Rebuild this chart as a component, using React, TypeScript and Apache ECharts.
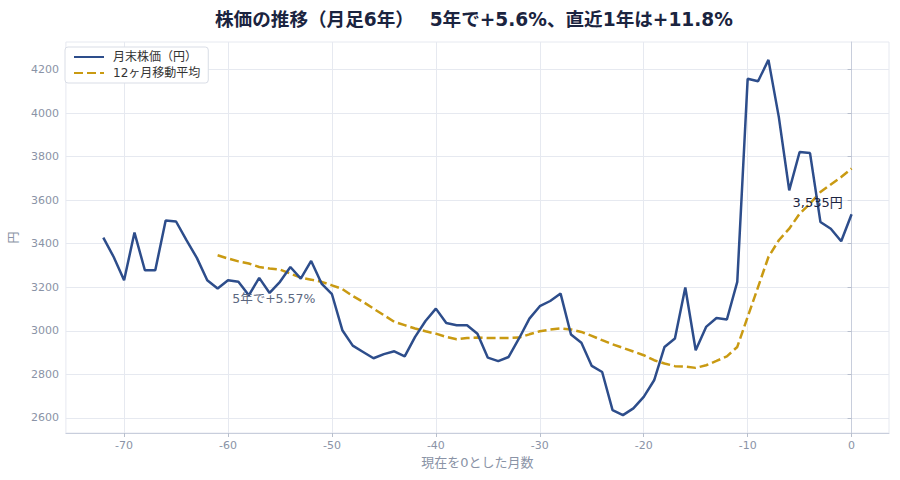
import { useEffect, useRef } from 'react'
import * as echarts from 'echarts'

// 月末株価（-72 .. 0 ヶ月）
const PRICE = [
  3428, 3339, 3232, 3451, 3278, 3278, 3507, 3502, 3416, 3335, 3232, 3194,
  3232, 3225, 3163, 3243, 3174, 3225, 3293, 3240, 3321, 3217, 3168, 3003,
  2932, 2903, 2874, 2893, 2906, 2883, 2972, 3045, 3102, 3036, 3026, 3026,
  2987, 2877, 2861, 2880, 2965, 3056, 3113, 3137, 3171, 2983, 2945, 2839,
  2811, 2636, 2613, 2644, 2697, 2773, 2926, 2965, 3199, 2911, 3018, 3059,
  3052, 3225, 4157, 4146, 4244, 3981, 3645, 3821, 3816, 3500, 3469, 3411,
  3535,
]

// 12ヶ月移動平均（-61 .. 0 ヶ月）
const MA12 = [
  3347, 3332, 3319, 3309, 3293, 3286, 3281, 3263, 3244, 3235, 3225, 3209,
  3192, 3160, 3133, 3102, 3072, 3041, 3026, 3011, 2998, 2987, 2972, 2961,
  2967, 2969, 2967, 2967, 2967, 2969, 2984, 2998, 3006, 3011, 3006, 2995,
  2977, 2957, 2938, 2922, 2905, 2888, 2865, 2850, 2838, 2836, 2830, 2842,
  2862, 2883, 2926, 3064, 3201, 3339, 3416, 3469, 3538, 3584, 3637, 3672,
  3706, 3745,
]

const X_TICKS = [-70, -60, -50, -40, -30, -20, -10, 0]
const Y_TICKS = [2600, 2800, 3000, 3200, 3400, 3600, 3800, 4000, 4200]

const FONT = '"DejaVu Sans", "Noto Sans CJK JP", sans-serif'
const BLUE = '#2d4d8b'
const GOLD = '#c99a12'
const MUTED = '#8a93a6'

export default function App() {
  const ref = useRef<HTMLDivElement | null>(null)

  useEffect(() => {
    if (!ref.current) return
    const chart = echarts.init(ref.current, null, { renderer: 'svg' })
    chart.setOption(buildOption())
    return () => chart.dispose()
  }, [])

  return <div ref={ref} style={{ width: 900, height: 480, position: 'absolute', left: 0, top: 0 }} />
}

function buildOption() {
  const priceData = PRICE.map((v, i) => [i - (PRICE.length - 1), v])
  const maData = MA12.map((v, i) => [i - (MA12.length - 1), v])
  const last = PRICE[PRICE.length - 1]

  return {
    animation: false,
    textStyle: { fontFamily: FONT },
    title: {
      text: '株価の推移（月足6年）\u3000 5年で+5.6%、直近1年は+11.8%',
      left: 210,
      top: 5,
      textStyle: { fontSize: 18.6, fontWeight: 'bold', color: '#1b2440', fontFamily: FONT },
    },
    legend: {
      orient: 'vertical',
      left: 65,
      top: 47,
      padding: [4, 8, 4, 8],
      itemGap: 4,
      itemWidth: 30,
      itemHeight: 14,
      borderColor: '#d9dde6',
      borderWidth: 1,
      borderRadius: 3,
      backgroundColor: '#fff',
      itemStyle: { opacity: 0 },
      textStyle: { fontSize: 12, color: '#333', fontFamily: FONT, padding: [0, 0, 0, 4] },
      data: ['月末株価（円）', '12ヶ月移動平均'],
    },
    grid: {
      left: 63,
      right: 11,
      top: 42,
      bottom: 47,
      show: true,
      borderColor: '#e6e9f0',
      borderWidth: 1,
    },
    xAxis: {
      type: 'value',
      min: -75.6,
      max: 3.6,
      name: '現在を0とした月数',
      nameLocation: 'middle',
      nameGap: 21,
      nameTextStyle: { color: MUTED, fontSize: 13, fontFamily: FONT },
      axisLine: { show: true, lineStyle: { color: '#c8cedc' } },
      axisTick: { show: true, length: 4, lineStyle: { color: '#b8bfcd' }, customValues: X_TICKS },
      axisLabel: { color: MUTED, fontSize: 11, margin: 7, customValues: X_TICKS },
      splitLine: { show: true, lineStyle: { color: '#e6e9f0' } },
    },
    yAxis: {
      type: 'value',
      min: 2531,
      max: 4326,
      name: '円',
      nameLocation: 'middle',
      nameGap: 41,
      nameRotate: 90,
      nameTextStyle: { color: MUTED, fontSize: 12, fontFamily: FONT },
      axisLine: { show: true, lineStyle: { color: '#c8cedc' } },
      axisTick: { show: true, length: 4, lineStyle: { color: '#b8bfcd' }, customValues: Y_TICKS },
      axisLabel: {
        color: MUTED,
        fontSize: 11,
        margin: 7,
        customValues: Y_TICKS,
        formatter: (v: number) => String(v),
      },
      splitLine: { show: true, lineStyle: { color: '#e6e9f0' } },
    },
    series: [
      {
        name: '月末株価（円）',
        type: 'line',
        data: priceData,
        symbol: 'none',
        lineStyle: { color: BLUE, width: 2.5 },
        itemStyle: { color: BLUE },
        z: 3,
        markPoint: {
          symbol: 'circle',
          symbolSize: 0,
          silent: true,
          data: [
            {
              coord: [0, last],
              label: {
                show: true,
                formatter: last.toLocaleString('en-US') + '円',
                position: 'inside',
                offset: [-34, -12],
                color: '#1b2440',
                fontSize: 13,
                fontFamily: FONT,
              },
            },
            {
              coord: [-59.6, 3150],
              label: {
                show: true,
                formatter: '5年で+5.57%',
                position: 'inside',
                align: 'left',
                color: '#5b6780',
                fontSize: 12.5,
                fontFamily: FONT,
              },
            },
          ],
        },
      },
      {
        name: '12ヶ月移動平均',
        type: 'line',
        data: maData,
        symbol: 'none',
        lineStyle: { color: GOLD, width: 2.5, type: [9, 4] },
        itemStyle: { color: GOLD },
        z: 2,
      },
    ],
  }
}
